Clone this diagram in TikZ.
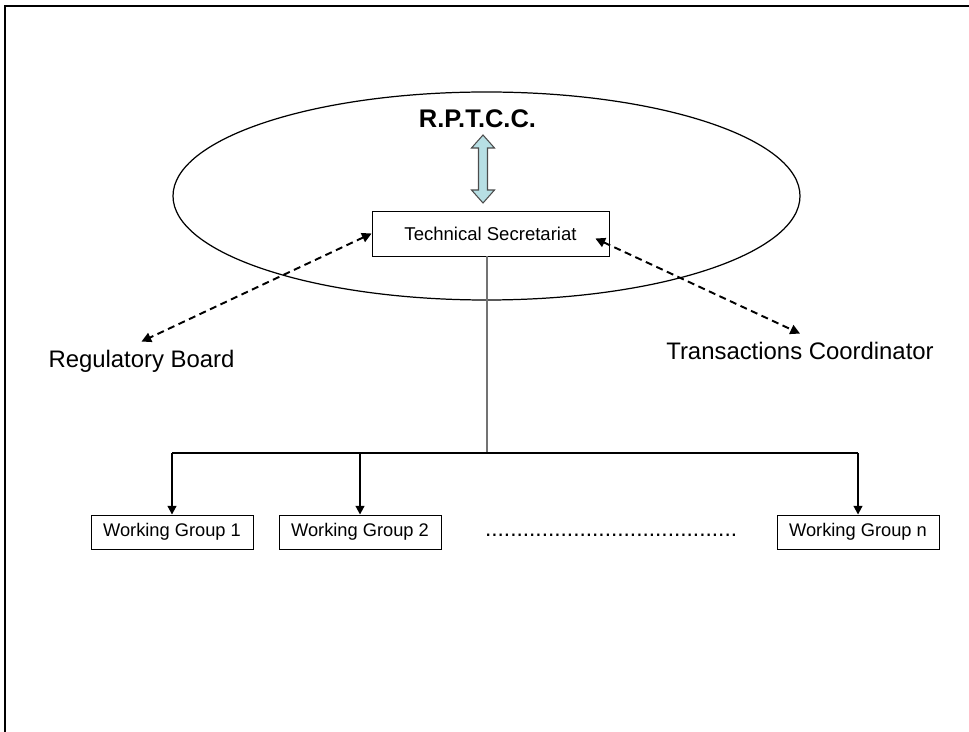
\documentclass[tikz,border=0pt]{standalone}
\usepackage{fontspec}
\setmainfont{Liberation Sans}
\usetikzlibrary{arrows.meta, positioning, calc, fit}

\definecolor{linkblue}{RGB}{183,223,228}

\tikzset{
  groupbox/.style={draw, line width=0.5pt, minimum width=3.24cm, minimum height=0.68cm, inner sep=0pt, font=\fontsize{10.4}{12}\selectfont},
  sidelabel/.style={anchor=base, inner sep=5pt, font=\fontsize{13.6}{16}\selectfont},
  dasharrow/.style={line width=1.1pt, dash pattern=on 4pt off 2.6pt, {Triangle[length=5.5pt,width=5.5pt]}-{Triangle[length=5.5pt,width=5.5pt]}},
  downarrow/.style={line width=1.1pt, -{Triangle[length=5pt,width=5pt]}},
}

\begin{document}
\begin{tikzpicture}[x=0.02cm, y=-0.02cm]
\useasboundingbox (0,0) rectangle (969,732);
\draw[line width=1.1pt] (5,732) -- (5,6) -- (969,6);

% council and its secretariat
\draw[line width=0.7pt] (486.5,196) ellipse [x radius=313.5, y radius=104];
\node[anchor=base, font=\bfseries\fontsize{14.5}{17}\selectfont] (rptcc) at (477.5,128) {R.P.T.C.C.};
\node[draw, line width=0.5pt, minimum width=4.74cm, minimum height=0.9cm, font=\fontsize{10.55}{12}\selectfont] (ts) at (490.5,233.5) {Technical Secretariat};

\coordinate (link) at (483,169);
\begin{scope}[shift={(link)}]
  \draw[fill=linkblue, draw=black!70, line width=0.6pt]
    (0,-34) -- (11.5,-21) -- (4.5,-21) -- (4.5,21) -- (11.5,21) -- (0,34)
    -- (-11.5,21) -- (-4.5,21) -- (-4.5,-21) -- (-11.5,-21) -- cycle;
\end{scope}

% outside bodies
\node[sidelabel] (rb) at (141.5,368) {Regulatory Board};
\node[sidelabel] (tc) at (800,360) {Transactions Coordinator};
\coordinate (tsin) at ($(ts.east)+(-14,5)$);
\draw[dasharrow] (ts.west) -- (rb.north);
\draw[dasharrow] (tsin) -- (tc.north);

% working groups
\node[groupbox] (wg1) at (172,532) {Working Group 1};
\node[groupbox] (wg2) at (360,532) {Working Group 2};
\node[groupbox] (wgn) at (858,532) {Working Group n};
\node[anchor=base, inner sep=0pt, font=\fontsize{12.9}{15}\selectfont] (dots) at (611,536) {........................................};

\coordinate (split) at (487,453);
\draw[black!55, line width=0.6pt] (ts.south -| split) -- (split);
\draw[line width=1.1pt] (wg1.north |- split) -- (wgn.north |- split);
\foreach \g in {wg1,wg2,wgn}
  \draw[downarrow] (\g.north |- split) -- (\g.north);
\end{tikzpicture}
\end{document}
